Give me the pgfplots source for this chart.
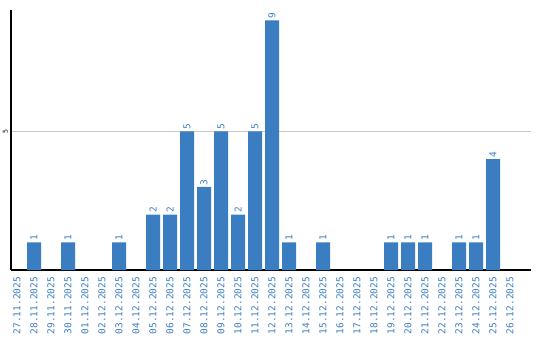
\documentclass[border=0pt]{standalone}
\usepackage{pgfplots}
\pgfplotsset{compat=1.18}
\usepackage{fontspec}
\setmainfont{DejaVu Sans Mono}
\definecolor{barblue}{HTML}{3B7DC1}
\definecolor{gridgray}{HTML}{C8C8C8}
\begin{document}
\begin{tikzpicture}
\path[use as bounding box] (-11bp,-70bp) rectangle (529bp,270bp);
\begin{axis}[
 scale only axis, width=520bp, height=260bp,
 at={(0,0)}, anchor=south west,
 xmin=-0.353, xmax=30.235, ymin=0, ymax=9.37,
 axis x line*=bottom, axis y line*=left,
 axis line style={line width=1.4bp, -},
 ybar, bar width=14bp,
 xtick={0,...,29},
 xticklabels={27.11.2025,28.11.2025,29.11.2025,30.11.2025,01.12.2025,02.12.2025,03.12.2025,04.12.2025,05.12.2025,06.12.2025,07.12.2025,08.12.2025,09.12.2025,10.12.2025,11.12.2025,12.12.2025,13.12.2025,14.12.2025,15.12.2025,16.12.2025,17.12.2025,18.12.2025,19.12.2025,20.12.2025,21.12.2025,22.12.2025,23.12.2025,24.12.2025,25.12.2025,26.12.2025},
 ytick={5},
 ymajorgrids, grid style={gridgray, line width=1bp},
 major tick length=0pt,
 /pgf/number format/assume math mode=true,
 xticklabel style={yshift=-7bp, rotate=90, anchor=east, inner sep=0pt, font=\fontsize{9.5}{10}\selectfont, text=barblue},
 yticklabel style={xshift=-3bp, rotate=90, anchor=south, inner sep=0pt, font=\fontsize{6.5}{7}\selectfont},
 nodes near coords,
 nodes near coords style={rotate=90, anchor=west, inner sep=1.5bp, text=barblue, font=\fontsize{9.5}{10}\selectfont},
]
\addplot[fill=barblue, draw=none] coordinates {
 (1,1) (3,1) (6,1) (8,2) (9,2) (10,5) (11,3) (12,5) (13,2) (14,5) (15,9)
 (16,1) (18,1) (22,1) (23,1) (24,1) (26,1) (27,1) (28,4)
};
\end{axis}
\end{tikzpicture}
\end{document}
